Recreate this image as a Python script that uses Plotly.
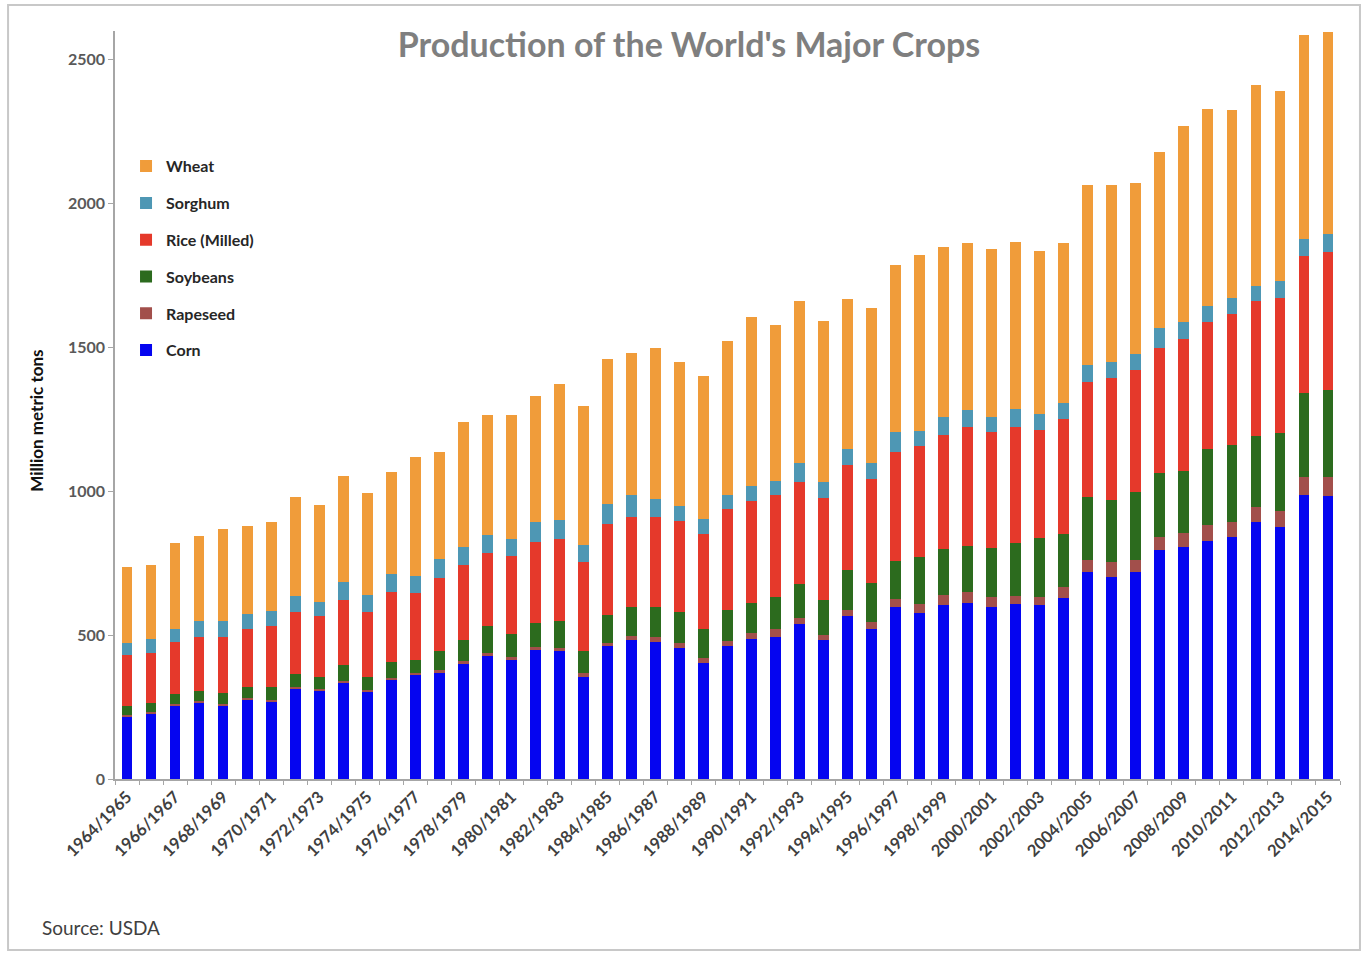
import plotly.graph_objects as go

seasons = [f"{y}/{y+1}" for y in range(1964, 2015)]

corn = [217, 228, 254, 267, 254, 275, 269, 314, 307, 335, 302, 344, 361, 370, 400, 428, 414, 448, 446, 356,
        462, 483, 477, 454, 402, 463, 485, 495, 538, 483, 566, 521, 598, 577, 605, 611, 598, 608, 606, 629,
        719, 701, 719, 797, 805, 828, 840, 892, 875, 987, 982]
rapeseed = [5, 5, 5, 5, 6, 6, 7, 7, 7, 7, 7, 7, 7, 8, 9, 10, 10, 11, 11, 12,
            12, 15, 16, 18, 20, 16, 21, 26, 22, 19, 23, 26, 26, 30, 35, 39, 33, 27, 26, 38,
            43, 52, 43, 43, 49, 55, 52, 55, 55, 64, 69]
soybeans = [32, 30, 36, 34, 38, 38, 45, 44, 42, 54, 47, 55, 44, 68, 74, 95, 80, 82, 92, 78,
            96, 99, 104, 107, 99, 110, 105, 110, 118, 120, 138, 133, 135, 163, 160, 161, 173, 185, 205, 185,
            217, 217, 237, 222, 215, 265, 268, 245, 274, 291, 300]
rice = [177, 176, 180, 189, 197, 203, 212, 217, 211, 226, 226, 243, 235, 251, 261, 252, 271, 282, 285, 307,
        315, 315, 315, 319, 332, 348, 354, 357, 355, 354, 364, 362, 379, 386, 397, 412, 403, 404, 375, 399,
        401, 424, 421, 436, 459, 440, 456, 471, 467, 477, 481]
sorghum = [43, 47, 46, 54, 54, 53, 51, 54, 49, 64, 56, 64, 58, 66, 61, 63, 58, 69, 66, 60,
           71, 75, 61, 52, 52, 51, 52, 48, 67, 56, 57, 58, 69, 54, 62, 58, 52, 61, 58, 57,
           58, 56, 56, 69, 60, 57, 55, 52, 61, 58, 61]
wheat = [264, 257, 300, 296, 321, 304, 310, 344, 337, 367, 357, 353, 416, 375, 437, 416, 431, 440, 472, 484,
         503, 495, 524, 501, 497, 533, 589, 543, 560, 560, 522, 538, 579, 611, 590, 583, 584, 580, 566, 554,
         628, 616, 597, 612, 681, 685, 653, 696, 658, 710, 703]

series = [
    ("Corn", corn, "#0505f0"),
    ("Rapeseed", rapeseed, "#a24f4b"),
    ("Soybeans", soybeans, "#2c6b1e"),
    ("Rice (Milled)", rice, "#e5392b"),
    ("Sorghum", sorghum, "#4e97b4"),
    ("Wheat", wheat, "#f09c3a"),
]

tick_text = [s if i % 2 == 0 else "" for i, s in enumerate(seasons)]

fig = go.Figure()
n = len(series)
for k, (name, vals, color) in enumerate(series):
    fig.add_trace(go.Bar(
        x=seasons, y=vals, name=name, legendgroup=name, legendrank=n - k,
        marker=dict(color=color, line=dict(width=0)),
    ))

fig.update_layout(
    width=1367, height=955,
    barmode="stack", bargap=0.55,
    paper_bgcolor="white", plot_bgcolor="white",
    margin=dict(l=115, r=27, t=31, b=176),
    font=dict(family="Lato, Open Sans, sans-serif", color="#404040"),
    title=dict(
        text="<b>Production of the World's Major Crops</b>",
        x=0.504, xanchor="center", y=0.953, yanchor="middle",
        font=dict(size=34, color="#7f7f7f", family="Lato, Open Sans, sans-serif"),
    ),
    legend=dict(
        x=0.009, y=0.842, xanchor="left", yanchor="top",
        traceorder="grouped", tracegroupgap=13,
        font=dict(size=16, color="#262626", family="Lato, Open Sans, sans-serif", weight="bold"),
        bgcolor="rgba(0,0,0,0)", itemwidth=30,
    ),
    showlegend=True,
)

fig.update_xaxes(
    type="category", tickangle=-45,
    tickmode="array", tickvals=seasons, ticktext=tick_text,
    showline=True, linecolor="#a6a6a6", linewidth=1.5,
    ticks="outside", tickson="boundaries", ticklen=4, tickcolor="#a6a6a6",
    tickfont=dict(size=16.5, color="#404040", weight="bold"),
    showgrid=False,
)
fig.update_yaxes(
    range=[0, 2600], tickvals=[0, 500, 1000, 1500, 2000, 2500],
    showline=True, linecolor="#a6a6a6", linewidth=1.5,
    ticks="outside", ticklen=5, tickcolor="#a6a6a6",
    tickfont=dict(size=16, color="#595959", weight="bold"),
    showgrid=False, zeroline=False,
)

fig.add_annotation(
    text="<b>Million metric tons</b>", textangle=-90,
    xref="paper", yref="paper", x=-0.0637, y=0.479,
    xanchor="center", yanchor="middle", showarrow=False,
    font=dict(size=17, color="#111111"),
)
fig.add_annotation(
    text="Source: USDA",
    xref="paper", yref="paper", x=-0.0612, y=-0.199,
    xanchor="left", yanchor="middle", showarrow=False,
    font=dict(size=19, color="#404040"),
)
fig.add_shape(
    type="rect", xref="paper", yref="paper",
    x0=-0.0873, x1=1.0163, y0=-0.2286, y1=1.0348,
    line=dict(color="#c8c8c8", width=2), fillcolor="rgba(0,0,0,0)", layer="below",
)

fig.write_html("out.html", config={"displayModeBar": False},
               post_script="document.body.style.margin='0px';")
